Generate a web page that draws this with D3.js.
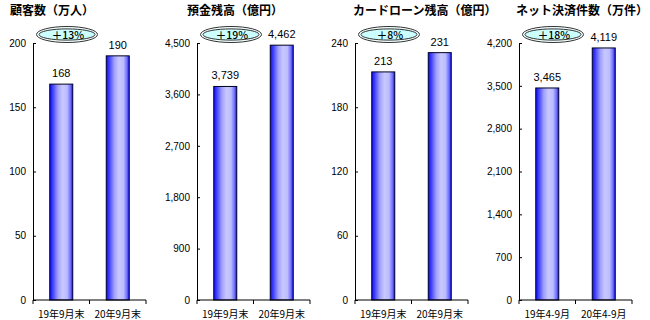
<!DOCTYPE html>
<html><head><meta charset="utf-8">
<script src="https://cdn.jsdelivr.net/npm/d3@7"></script>
<style>
html,body{margin:0;padding:0;background:#fff;}
svg{display:block;font-family:"Liberation Sans","Noto Sans CJK JP",sans-serif;}
</style></head>
<body>
<svg id="c" width="650" height="320"></svg>
<script>
// ---- data ----
const titles = ["顧客数（万人）", "預金残高（億円）", "カードローン残高（億円）", "ネット決済件数（万件）"];
const categoriesEnd = ["19年9月末", "20年9月末"];
const categoriesPeriod = ["19年4-9月", "20年4-9月"];
const customers = [168, 190];
const deposits = [3739, 4462];
const cardLoans = [213, 231];
const netPayments = [3465, 4119];
const growthLabels = ["＋13%", "＋19%", "＋8%", "＋18%"];
const yMaxima = [200, 4500, 240, 4200];
const yTickSteps = [50, 900, 60, 700];

const panels = [
  {title: titles[0], cats: categoriesEnd, vals: customers, growth: growthLabels[0], max: yMaxima[0], step: yTickSteps[0]},
  {title: titles[1], cats: categoriesEnd, vals: deposits, growth: growthLabels[1], max: yMaxima[1], step: yTickSteps[1]},
  {title: titles[2], cats: categoriesEnd, vals: cardLoans, growth: growthLabels[2], max: yMaxima[2], step: yTickSteps[2]},
  {title: titles[3], cats: categoriesPeriod, vals: netPayments, growth: growthLabels[3], max: yMaxima[3], step: yTickSteps[3]}
];

// ---- layout ----
const axisX = [33, 197, 355, 519];
const titleX = [10, 187, 353, 516];
const axisW = 113, yTop = 43, yBottom = 300, barW = 23;

const svg = d3.select("#c");
const defs = svg.append("defs");
const grad = defs.append("linearGradient").attr("id", "barGrad")
  .attr("x1", "0%").attr("x2", "100%").attr("y1", "0%").attr("y2", "0%");
[[0, "#0a0aff"], [0.12, "#3c3cff"], [0.35, "#a0a0ff"], [0.55, "#c8c8ff"], [0.75, "#bcbcff"], [0.9, "#7070ff"], [1, "#1010ff"]]
  .forEach(([o, c]) => grad.append("stop").attr("offset", o).attr("stop-color", c));

panels.forEach((p, i) => {
  const g = svg.append("g").attr("transform", `translate(${axisX[i]},0)`);
  const x = d3.scaleBand().domain(p.cats).range([0, axisW]).padding(0);
  const y = d3.scaleLinear().domain([0, p.max]).range([yBottom, yTop]);
  const ticks = d3.range(0, p.max + p.step / 2, p.step);

  // title
  svg.append("text").attr("x", titleX[i]).attr("y", 15)
    .attr("font-family", "'Noto Sans CJK JP',sans-serif").attr("font-size", 12).attr("font-weight", "bold")
    .attr("fill", "#000").text(p.title);

  // y axis
  const ya = g.append("g").call(d3.axisLeft(y).tickValues(ticks).tickSize(-3).tickSizeOuter(0)
    .tickPadding(7).tickFormat(d3.format(",")));
  ya.selectAll("text").attr("font-size", 10).attr("font-family", "'Liberation Sans',Arial,sans-serif").attr("fill", "#000");
  ya.selectAll("line,path").attr("stroke", "#000");

  // bars
  g.selectAll("rect.bar").data(p.vals).join("rect").attr("class", "bar")
    .attr("x", (d, j) => x(p.cats[j]) + (x.bandwidth() - barW) / 2)
    .attr("y", d => y(d)).attr("width", barW).attr("height", d => yBottom - y(d))
    .attr("fill", "url(#barGrad)").attr("stroke", "#000022").attr("stroke-width", 1);

  // value labels
  g.selectAll("text.val").data(p.vals).join("text").attr("class", "val")
    .attr("x", (d, j) => x(p.cats[j]) + x.bandwidth() / 2)
    .attr("y", d => y(d) - 7).attr("text-anchor", "middle")
    .attr("font-size", 11).attr("font-family", "'Liberation Sans',Arial,sans-serif").attr("fill", "#000")
    .text(d => d3.format(",")(d));

  // x axis
  const xa = g.append("g").attr("transform", `translate(0,${yBottom})`);
  xa.append("line").attr("x1", 0).attr("x2", axisW).attr("stroke", "#000");
  const bounds = [0, x(p.cats[1]), axisW];
  xa.selectAll("line.tk").data(bounds).join("line").attr("class", "tk")
    .attr("x1", d => d).attr("x2", d => d).attr("y1", 0).attr("y2", 4).attr("stroke", "#000");
  xa.selectAll("text").data(p.cats).join("text")
    .attr("x", d => x(d) + x.bandwidth() / 2).attr("y", 18).attr("text-anchor", "middle")
    .attr("font-size", 10).attr("font-family", "'Noto Sans CJK JP',sans-serif").attr("fill", "#000")
    .text(d => d);

  // growth ellipse
  const eg = g.append("g").attr("transform", `translate(34,34.5)`);
  eg.append("ellipse").attr("rx", 30.5).attr("ry", 8).attr("fill", "#f4ffff").attr("stroke", "#333").attr("stroke-width", 1);
  eg.append("ellipse").attr("rx", 28).attr("ry", 5.6).attr("fill", "#ccffff").attr("stroke", "#333").attr("stroke-width", 1);
  eg.append("text").attr("x", 1).attr("y", 4).attr("text-anchor", "middle")
    .attr("font-size", 10.5).attr("font-weight", 500).attr("font-family", "'Noto Sans CJK JP',sans-serif").attr("fill", "#000")
    .text(p.growth);
});
</script>
</body></html>
